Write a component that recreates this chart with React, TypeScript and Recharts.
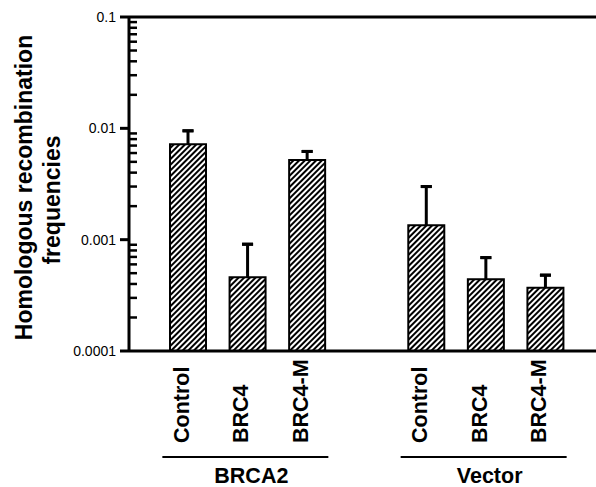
import React from 'react';
import { BarChart, Bar, XAxis, YAxis, ErrorBar } from 'recharts';

const groups = ['BRCA2', 'Vector'];
const conditions = ['Control', 'BRC4', 'BRC4-M'];
const brca2Freq = [0.0072, 0.00046, 0.0052];
const brca2ErrTop = [0.0095, 0.00091, 0.0062];
const vectorFreq = [0.00135, 0.00044, 0.00037];
const vectorErrTop = [0.003, 0.00069, 0.00048];
const majorTicks = [0.0001, 0.001, 0.01, 0.1];
const majorTickLabels = ['0.0001', '0.001', '0.01', '0.1'];
const minorMultipliers = [2, 3, 4, 5, 6, 7, 8, 9];
const yTitleLines = ['Homologous recombination', 'frequencies'];

const FONT = '"Liberation Sans", Arial, Helvetica, sans-serif';

const makeRows = (group: string, freq: number[], errTop: number[]) =>
  conditions.map((c, i) => {
    const up = errTop[i] - freq[i];
    return {
      slot: `${group}|${c}`,
      group,
      cond: c,
      value: freq[i],
      errLine: [0, up],
      errCap: [-up, up],
    };
  });

const rows: any[] = [
  ...makeRows(groups[0], brca2Freq, brca2ErrTop),
  { slot: 'gap', group: '', cond: '', value: null },
  ...makeRows(groups[1], vectorFreq, vectorErrTop),
];

const yTicks: number[] = [];
majorTicks.forEach((m, i) => {
  yTicks.push(m);
  if (i < majorTicks.length - 1) minorMultipliers.forEach((k) => yTicks.push(m * k));
});

const YTick = (props: any) => {
  const { x, y, payload } = props;
  const v = payload.value;
  const idx = majorTicks.findIndex((m) => Math.abs(m - v) / m < 1e-6);
  if (idx >= 0) {
    return (
      <g>
        <line x1={x - 9} x2={x} y1={y} y2={y} stroke="#000" strokeWidth={3} />
        <text
          x={x - 13}
          y={y}
          dy="0.36em"
          textAnchor="end"
          fontFamily={FONT}
          fontSize={14}
          fill="#000"
        >
          {majorTickLabels[idx]}
        </text>
      </g>
    );
  }
  return <line x1={x} x2={x + 8} y1={y} y2={y} stroke="#000" strokeWidth={2.5} />;
};

const XTick = (props: any) => {
  const { x, y, payload } = props;
  const row = rows.find((r) => r.slot === payload.value);
  if (!row || !row.cond) return null;
  const ty = y + 92;
  const tx = x + 1;
  const isMiddle = row.cond === conditions[1];
  return (
    <g>
      <text
        x={tx}
        y={ty}
        transform={`rotate(-90 ${tx} ${ty})`}
        textAnchor="start"
        fontFamily={FONT}
        fontWeight="bold"
        fontSize={21.5}
        fill="#000"
      >
        {row.cond}
      </text>
      {isMiddle && (
        <g>
          <line x1={x - 85} x2={x + 81} y1={y + 106} y2={y + 106} stroke="#000" strokeWidth={2} />
          <text
            x={x + 4}
            y={y + 132}
            textAnchor="middle"
            fontFamily={FONT}
            fontWeight="bold"
            fontSize={21.5}
            fill="#000"
          >
            {row.group}
          </text>
        </g>
      )}
    </g>
  );
};

const YTitle = () => (
  <g>
    <text
      x={32}
      y={187.5}
      transform="rotate(-90 32 187.5)"
      textAnchor="middle"
      fontFamily={FONT}
      fontWeight="bold"
      fontSize={23}
      fill="#000"
    >
      {yTitleLines[0]}
    </text>
    <text
      x={60}
      y={200}
      transform="rotate(-90 60 200)"
      textAnchor="middle"
      fontFamily={FONT}
      fontWeight="bold"
      fontSize={23}
      fill="#000"
    >
      {yTitleLines[1]}
    </text>
  </g>
);

export default function App() {
  return (
    <div style={{ position: 'absolute', left: 0, top: 0, background: '#fff' }}>
      <BarChart
        width={596}
        height={487}
        data={rows}
        margin={{ top: 15, right: 0, bottom: 0, left: 0 }}
      >
        <defs>
          <pattern
            id="hatch"
            width="4"
            height="4"
            patternUnits="userSpaceOnUse"
            patternTransform="rotate(45)"
          >
            <rect x="0" y="0" width="4" height="4" fill="#fff" />
            <rect x="0" y="0" width="2" height="4" fill="#000" />
          </pattern>
        </defs>
        <XAxis
          xAxisId="top"
          orientation="top"
          dataKey="slot"
          height={2}
          tick={false}
          tickLine={false}
          axisLine={{ stroke: '#000', strokeWidth: 3 }}
        />
        <XAxis
          dataKey="slot"
          height={136}
          interval={0}
          tickSize={0}
          tickMargin={0}
          tickLine={false}
          padding={{ left: 29, right: 21 }}
          axisLine={{ stroke: '#000', strokeWidth: 3 }}
          tick={<XTick />}
        />
        <YAxis
          scale="log"
          domain={[0.0001, 0.1]}
          allowDataOverflow
          ticks={yTicks}
          interval={0}
          width={129}
          tickSize={0}
          tickMargin={0}
          tickLine={false}
          axisLine={{ stroke: '#000', strokeWidth: 3 }}
          tick={<YTick />}
          label={<YTitle />}
        />
        <Bar
          dataKey="value"
          barSize={36}
          fill="url(#hatch)"
          stroke="#000"
          strokeWidth={2}
          isAnimationActive={false}
        >
          <ErrorBar dataKey="errLine" width={0} stroke="#000" strokeWidth={3} />
          <ErrorBar dataKey="errCap" width={5.5} stroke="#000" strokeWidth={3} />
        </Bar>
      </BarChart>
    </div>
  );
}
